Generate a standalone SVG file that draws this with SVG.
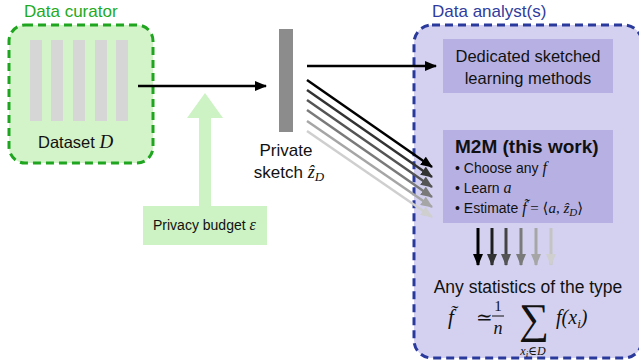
<svg xmlns="http://www.w3.org/2000/svg" width="639" height="364" viewBox="0 0 639 364">
  <style>
    .sans { font-family: "Liberation Sans", "DejaVu Sans", sans-serif; }
    .math { font-family: "Liberation Serif", "DejaVu Serif", serif; font-style: italic; }
    .mathup { font-family: "Liberation Serif", "DejaVu Serif", serif; }
    .bar { fill: #d6d6d6; }
    .inner { fill: #b7b1e3; }
  </style>
  <defs>
    <marker id="ah0" markerUnits="userSpaceOnUse" markerWidth="12" markerHeight="10" refX="11" refY="5" orient="auto"><path d="M0,0 L12,5 L0,10 z" fill="#000"/></marker>
    <marker id="ah1" markerUnits="userSpaceOnUse" markerWidth="12" markerHeight="10" refX="11" refY="5" orient="auto"><path d="M0,0 L12,5 L0,10 z" fill="#333"/></marker>
    <marker id="ah2" markerUnits="userSpaceOnUse" markerWidth="12" markerHeight="10" refX="11" refY="5" orient="auto"><path d="M0,0 L12,5 L0,10 z" fill="#555"/></marker>
    <marker id="ah3" markerUnits="userSpaceOnUse" markerWidth="12" markerHeight="10" refX="11" refY="5" orient="auto"><path d="M0,0 L12,5 L0,10 z" fill="#7a7a7a"/></marker>
    <marker id="ah4" markerUnits="userSpaceOnUse" markerWidth="12" markerHeight="10" refX="11" refY="5" orient="auto"><path d="M0,0 L12,5 L0,10 z" fill="#a6a6a6"/></marker>
    <marker id="ah5" markerUnits="userSpaceOnUse" markerWidth="12" markerHeight="10" refX="11" refY="5" orient="auto"><path d="M0,0 L12,5 L0,10 z" fill="#cfcfcf"/></marker>
  </defs>

  <!-- Data curator -->
  <g id="curator">
    <text x="24" y="17" class="sans" font-size="17" fill="#22aa22">Data curator</text>
    <rect x="9" y="25" width="144" height="138" rx="16" fill="#d3f3c8" stroke="#1fa51f" stroke-width="3" stroke-dasharray="8 5"/>
    <rect class="bar" x="30" y="40" width="12" height="81"/>
    <rect class="bar" x="51" y="40" width="12" height="81"/>
    <rect class="bar" x="73" y="40" width="12" height="81"/>
    <rect class="bar" x="95" y="40" width="12" height="81"/>
    <rect class="bar" x="116" y="40" width="12" height="81"/>
    <text x="38" y="148" class="sans" font-size="16.5" fill="#111">Dataset <tspan class="math" font-size="19">D</tspan></text>
  </g>

  <!-- Privacy budget -->
  <g id="privacy">
    <polygon points="199,206 199,118 187,118 205,93 223,118 211,118 211,206" fill="#cdf2c4"/>
    <rect x="143" y="206" width="124" height="39" fill="#cdf2c4"/>
    <text x="153" y="230" class="sans" font-size="14" fill="#111">Privacy budget <tspan class="math" font-size="16">ε</tspan></text>
  </g>

  <!-- Private sketch -->
  <g id="sketch">
    <rect x="279" y="29" width="14" height="103" fill="#8c8c8c"/>
    <text x="286" y="156" class="sans" font-size="17" fill="#111" text-anchor="middle">Private</text>
    <text x="289" y="178" class="sans" font-size="17" fill="#111" text-anchor="middle">sketch <tspan class="math" font-size="18">ẑ</tspan><tspan class="math" font-size="13" dy="3">D</tspan></text>
  </g>

  <!-- Data analysts -->
  <g id="analyst">
    <text x="432" y="17" class="sans" font-size="17" fill="#2f3c9e">Data analyst(s)</text>
    <rect x="414" y="25" width="228" height="333" rx="18" fill="#d4d1f0" stroke="#2a3a9c" stroke-width="3" stroke-dasharray="8 5"/>
  </g>

  <g id="dedicated">
    <rect class="inner" x="443" y="39" width="170" height="54"/>
    <text x="528" y="62" class="sans" font-size="16.5" fill="#111" text-anchor="middle">Dedicated sketched</text>
    <text x="528" y="84" class="sans" font-size="16.5" fill="#111" text-anchor="middle">learning methods</text>
  </g>

  <g id="m2m">
    <rect class="inner" x="443" y="130" width="170" height="93"/>
    <text x="455" y="153" class="sans" font-size="19" font-weight="bold" fill="#111">M2M (this work)</text>
    <text x="455" y="173" class="sans" font-size="14" fill="#111">• Choose any <tspan class="math" font-size="16">f</tspan></text>
    <text x="455" y="193" class="sans" font-size="14" fill="#111">• Learn <tspan class="math" font-size="16">a</tspan></text>
    <text x="455" y="213" class="sans" font-size="14" fill="#111">• Estimate <tspan class="math" font-size="16">f&#x303;</tspan><tspan class="mathup" font-size="15"> = ⟨</tspan><tspan class="math" font-size="15">a</tspan><tspan class="mathup" font-size="15">, </tspan><tspan class="math" font-size="15">ẑ</tspan><tspan class="math" font-size="11" dy="3">D</tspan><tspan class="mathup" font-size="15" dy="-3">⟩</tspan></text>
  </g>

  <g id="statistics">
    <text x="528" y="293" class="sans" font-size="17.5" fill="#111" text-anchor="middle">Any statistics of the type</text>
    <text x="448" y="324" class="math" font-size="21" fill="#111">f&#x303;</text>
    <text x="476" y="324" class="mathup" font-size="20" fill="#111">≃</text>
    <text x="498" y="311" class="mathup" font-size="15" fill="#111" text-anchor="middle">1</text>
    <line x1="492" y1="316" x2="504" y2="316" stroke="#111" stroke-width="1"/>
    <text x="498" y="334" class="math" font-size="18" fill="#111" text-anchor="middle">n</text>
    <text x="534" y="333" class="mathup" font-size="42" fill="#111" text-anchor="middle">∑</text>
    <text x="533" y="355" class="math" font-size="12" fill="#111" text-anchor="middle">x<tspan font-size="9" dy="2">i</tspan><tspan class="mathup" dy="-2">∈</tspan>D</text>
    <text x="556" y="324" class="math" font-size="20" fill="#111">f<tspan class="mathup">(</tspan>x<tspan font-size="13" dy="4">i</tspan><tspan class="mathup" dy="-4">)</tspan></text>
  </g>

  <!-- connectors -->
  <g id="connectors" fill="none">
    <line x1="138" y1="86" x2="266" y2="86" stroke="#000" stroke-width="2.5" marker-end="url(#ah0)"/>
    <line x1="307" y1="66" x2="436" y2="66" stroke="#000" stroke-width="2.5" marker-end="url(#ah0)"/>
    <line x1="307" y1="131" x2="432" y2="217" stroke="#cfcfcf" stroke-width="2.5" marker-end="url(#ah5)"/>
    <line x1="307" y1="121" x2="432" y2="207" stroke="#a6a6a6" stroke-width="2.5" marker-end="url(#ah4)"/>
    <line x1="307" y1="110" x2="432" y2="197" stroke="#7a7a7a" stroke-width="2.5" marker-end="url(#ah3)"/>
    <line x1="307" y1="100" x2="432" y2="187" stroke="#555" stroke-width="2.5" marker-end="url(#ah2)"/>
    <line x1="307" y1="90" x2="432" y2="177" stroke="#333" stroke-width="2.5" marker-end="url(#ah1)"/>
    <line x1="307" y1="80" x2="432" y2="167" stroke="#000" stroke-width="2.5" marker-end="url(#ah0)"/>
    <line x1="478" y1="228" x2="478" y2="265" stroke="#000" stroke-width="3" marker-end="url(#ah0)"/>
    <line x1="492" y1="228" x2="492" y2="265" stroke="#1e1e1e" stroke-width="3" marker-end="url(#ah1)"/>
    <line x1="506" y1="228" x2="506" y2="265" stroke="#444" stroke-width="3" marker-end="url(#ah2)"/>
    <line x1="521" y1="228" x2="521" y2="265" stroke="#7a7a7a" stroke-width="3" marker-end="url(#ah3)"/>
    <line x1="536" y1="228" x2="536" y2="265" stroke="#a6a6a6" stroke-width="3" marker-end="url(#ah4)"/>
    <line x1="551" y1="228" x2="551" y2="265" stroke="#c4c4c4" stroke-width="3" marker-end="url(#ah5)"/>
  </g>
</svg>
